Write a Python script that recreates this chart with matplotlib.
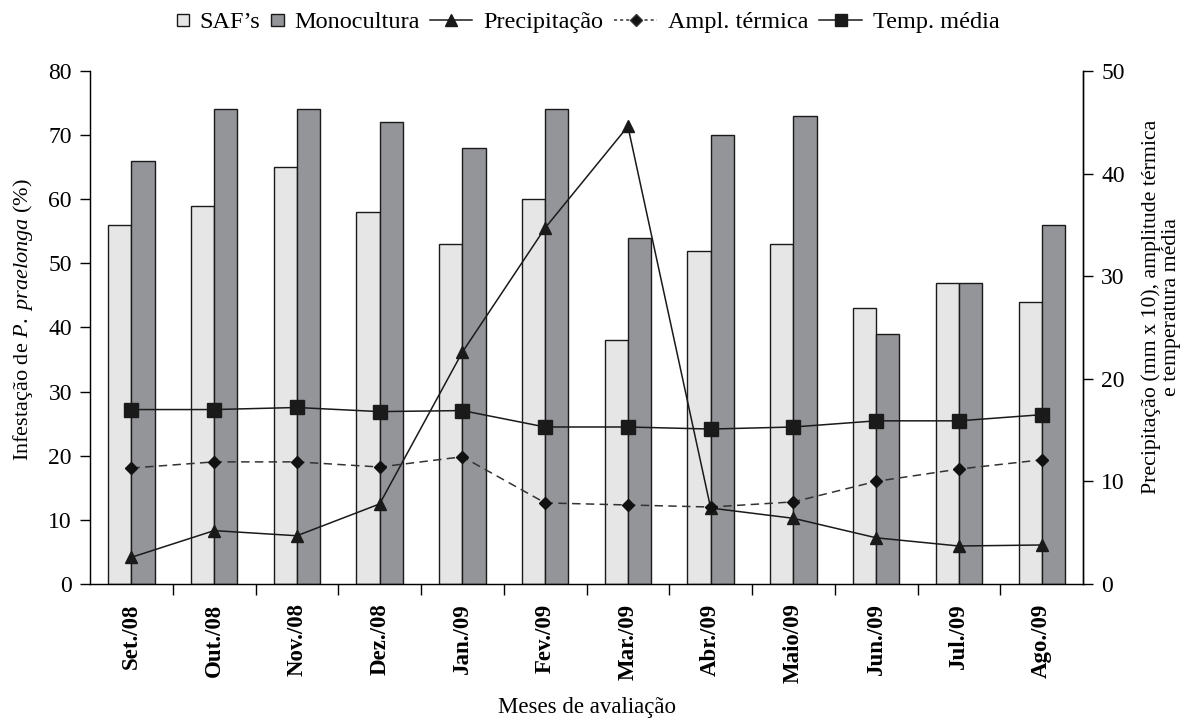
import numpy as np
import matplotlib
matplotlib.use("Agg")
import matplotlib.pyplot as plt
from matplotlib.lines import Line2D
from matplotlib.patches import Patch, Rectangle
from matplotlib.legend_handler import HandlerPatch

plt.rcParams['font.family'] = ['Liberation Serif', 'DejaVu Serif']
plt.rcParams['mathtext.fontset'] = 'custom'
plt.rcParams['mathtext.rm'] = 'Liberation Serif'
plt.rcParams['mathtext.it'] = 'Liberation Serif:italic'

months = ['Set./08', 'Out./08', 'Nov./08', 'Dez./08', 'Jan./09', 'Fev./09',
          'Mar./09', 'Abr./09', 'Maio/09', 'Jun./09', 'Jul./09', 'Ago./09']

# Infestation (%) - left axis
saf = [56, 59, 65, 58, 53, 60, 38, 52, 53, 43, 47, 44]
monocultura = [66, 74, 74, 72, 68, 74, 54, 70, 73, 39, 47, 56]

# Climate series - right axis
precipitacao = [2.6, 5.2, 4.7, 7.8, 22.6, 34.7, 44.6, 7.4, 6.4, 4.5, 3.7, 3.8]
ampl_termica = [11.3, 11.9, 11.9, 11.4, 12.4, 7.9, 7.7, 7.5, 8.0, 10.0, 11.2, 12.1]
temp_media = [17.0, 17.0, 17.2, 16.8, 16.9, 15.3, 15.3, 15.1, 15.3, 15.9, 15.9, 16.5]

x = np.arange(len(months))
w = 0.28
dash = (0, (5.5, 3.5))
c_saf = '#e6e6e6'
c_mono = '#939598'
ink = '#1a1a1a'

fig = plt.figure(figsize=(11.92, 7.19), dpi=100)
ax = fig.add_axes([0.0755, 0.1878, 0.8331, 0.7135])

ax.bar(x - w / 2, saf, width=w, color=c_saf, edgecolor=ink, linewidth=1.0)
ax.bar(x + w / 2, monocultura, width=w, color=c_mono, edgecolor=ink, linewidth=1.0)

ax.set_xlim(-0.5, len(months) - 0.5)
ax.set_ylim(0, 80)
ax.set_yticks(np.arange(0, 81, 10))
ax.spines['top'].set_visible(False)
for s in ['left', 'right', 'bottom']:
    ax.spines[s].set_linewidth(1.0)
    ax.spines[s].set_color(ink)

# month labels at group centres, tick marks at group boundaries
ax.set_xticks(x)
ax.set_xticklabels(months, rotation=90, fontweight='bold', fontsize=16.5)
ax.tick_params(axis='x', which='major', length=0, pad=14)
ax.set_xticks(np.arange(0.5, len(months) - 0.5, 1.0), minor=True)
ax.tick_params(axis='x', which='minor', length=8, width=1.0, direction='out')
ax.tick_params(axis='y', labelsize=17, length=7, width=1.0, direction='out', pad=6)

ax.set_ylabel(r'Infestação de $\it{P.\ praelonga}$ (%)', fontsize=16)
ax.yaxis.set_label_coords(-0.0675, 0.515)
ax.yaxis.label.set_verticalalignment('center')
ax.set_xlabel('Meses de avaliação', fontsize=16.5)
ax.xaxis.set_label_coords(0.5, -0.221)
ax.xaxis.label.set_verticalalignment('top')

ax2 = ax.twinx()
ax2.set_ylim(0, 50)
ax2.set_yticks(np.arange(0, 51, 10))
ax2.spines['top'].set_visible(False)
ax2.spines['right'].set_linewidth(1.0)
ax2.tick_params(axis='y', labelsize=17, length=7, width=1.0, direction='out', pad=6)

ax2.plot(x, precipitacao, color=ink, linewidth=1.1, marker='^', markersize=9)
ax2.plot(x, ampl_termica, color='#333333', linewidth=1.1, linestyle=dash,
         marker='D', markersize=6.5, markerfacecolor='#111111', markeredgecolor='#111111')
ax2.plot(x, temp_media, color=ink, linewidth=1.1, marker='s', markersize=9.5,
         markerfacecolor=ink)

ax2.set_ylabel('Precipitação (mm x 10), amplitude térmica\ne temperatura média',
               fontsize=15.7, linespacing=1.05)
ax2.yaxis.set_label_coords(1.0785, 0.54)
ax2.yaxis.label.set_horizontalalignment('center')
ax2.yaxis.label.set_verticalalignment('center')


def small_square(legend, orig_handle, xdescent, ydescent, width, height, fontsize):
    # square key, as wide as the handle box, centred vertically
    s = width
    return Rectangle((-xdescent, -ydescent + (height - s) / 2), s, s)


leg_kw = dict(frameon=False, fontsize=17.5, borderpad=0, borderaxespad=0,
              handletextpad=0.45, columnspacing=0.45)

# bar keys (small squares)
bar_handles = [Patch(facecolor=c_saf, edgecolor=ink, linewidth=1.0),
               Patch(facecolor=c_mono, edgecolor=ink, linewidth=1.0)]
bar_labels = ["SAF’s", 'Monocultura']
sq = HandlerPatch(patch_func=small_square)
fig.legend(bar_handles, bar_labels, loc='center right',
           bbox_to_anchor=(0.3523, 0.969), ncol=2, handlelength=0.5,
           handler_map={Patch: sq}, **leg_kw)

# line keys
line_handles = [
    Line2D([], [], color=ink, linewidth=1.1, marker='^', markersize=9),
    Line2D([], [], color='#333333', linewidth=1.1, linestyle=(0, (2, 2)), marker='D',
           markersize=6.5, markerfacecolor='#111111'),
    Line2D([], [], color=ink, linewidth=1.1, marker='s', markersize=9),
]
line_labels = ['Precipitação', 'Ampl. térmica', 'Temp. média']
fig.legend(line_handles, line_labels, loc='center left',
           bbox_to_anchor=(0.3607, 0.969), ncol=3, handlelength=1.75, **leg_kw)

fig.savefig('out.png', dpi=100)
